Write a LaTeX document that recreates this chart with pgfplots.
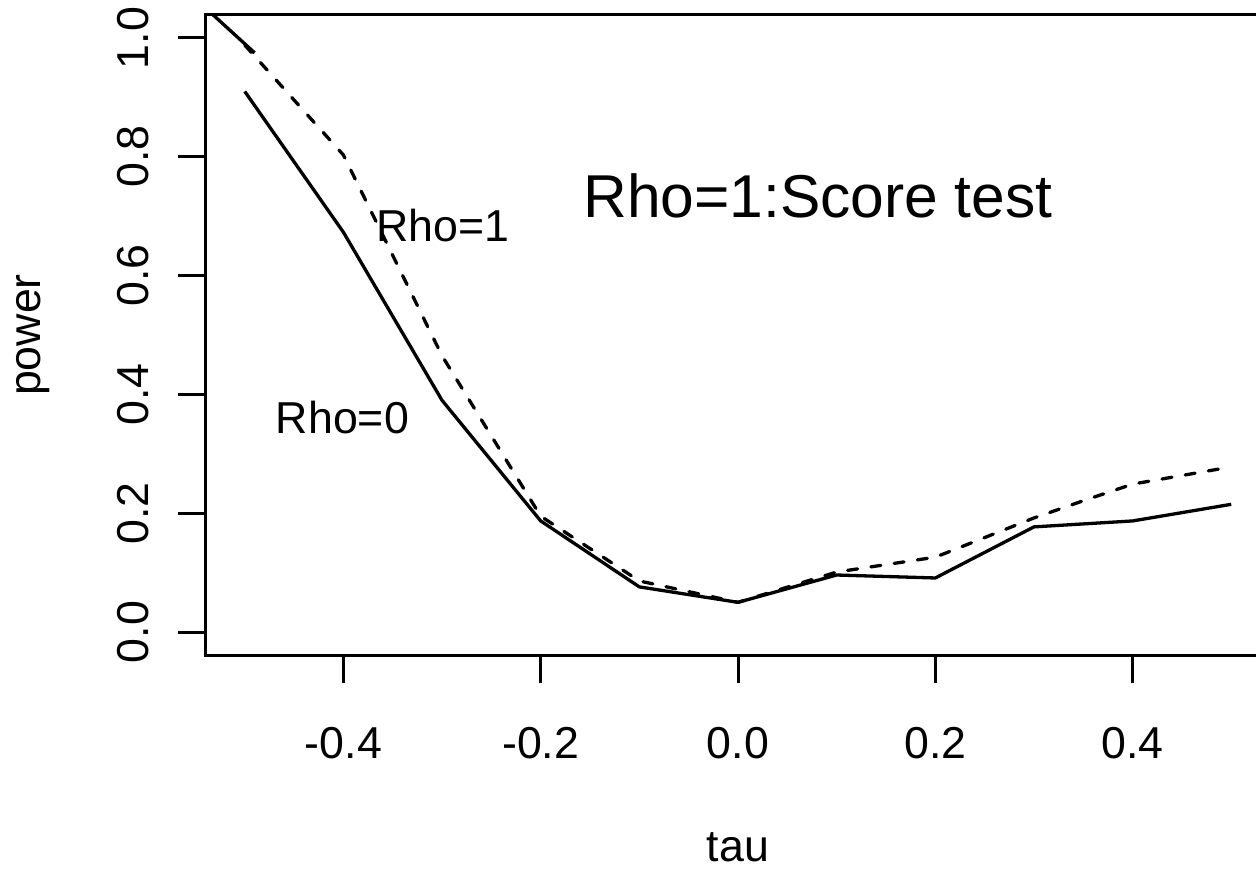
\documentclass[border=0pt]{standalone}
\usepackage{fontspec}
\setmainfont{Liberation Sans}
\usepackage{pgfplots}
\pgfplotsset{compat=1.18}
\begin{document}
\begin{tikzpicture}
\begin{axis}[
  at={(0pt,0pt)}, anchor=south west,
  scale only axis,
  width=1065.4pt, height=641.6pt,
  xmin=-0.54, xmax=0.54, ymin=-0.04, ymax=1.04,
  axis line style={line width=3pt},
  xtick={-0.4,-0.2,0,0.2,0.4},
  xticklabels={-0.4,-0.2,0.0,0.2,0.4},
  ytick={0,0.2,0.4,0.6,0.8,1},
  yticklabels={0.0,0.2,0.4,0.6,0.8,1.0},
  tick align=outside,
  major tick length=27pt,
  tick style={line width=3pt, black},
  xtick pos=left, ytick pos=left,
  tick label style={font=\fontsize{44.7}{50}\selectfont},
  xticklabel style={anchor=base, inner sep=0pt, yshift=-76pt},
  yticklabel style={xshift=-30pt, rotate=90, anchor=base, inner sep=0pt},
  every axis x label/.style={at={(axis description cs:0.5,0)}, anchor=base, yshift=-206pt, font=\fontsize{44.7}{50}\selectfont},
  every axis y label/.style={at={(axis description cs:0,0.5)}, xshift=-165pt, rotate=90, anchor=base, font=\fontsize{44.7}{50}\selectfont},
  xlabel={tau},
  ylabel={power},
  clip=true,
]
% Rho=0
\addplot[black, line width=3.3pt, line join=round] coordinates {
(-0.5,0.910) (-0.4,0.673) (-0.3,0.390) (-0.2,0.187) (-0.1,0.076) (0.0,0.050)
(0.1,0.096) (0.2,0.091) (0.3,0.177) (0.4,0.187) (0.5,0.215)};
% Rho=1
\addplot[black, line width=3.3pt, line cap=round, line join=round, dash pattern=on 10pt off 13.5pt] coordinates {
(-0.5,0.988) (-0.4,0.803) (-0.3,0.465) (-0.2,0.195) (-0.1,0.086) (0.0,0.050)
(0.1,0.101) (0.2,0.126) (0.3,0.192) (0.35,0.221) (0.4,0.249) (0.5,0.278)};
% short solid piece at upper left
\addplot[black, line width=3.3pt] coordinates {(-0.55,1.066) (-0.49,0.975)};
\node[anchor=base, font=\fontsize{44.7}{50}\selectfont, inner sep=0pt] at (axis cs:-0.299,0.657) {Rho=1};
\node[anchor=base, font=\fontsize{44.7}{50}\selectfont, inner sep=0pt] at (axis cs:-0.401,0.335) {Rho=0};
\node[anchor=base, font=\fontsize{60.5}{68}\selectfont, inner sep=0pt] at (axis cs:0.081,0.697) {Rho=1:Score test};
\end{axis}
\pgfresetboundingbox
\path[use as bounding box] (-205.3pt,-215.2pt) rectangle (1050.7pt,655.8pt);
\end{tikzpicture}
\end{document}
